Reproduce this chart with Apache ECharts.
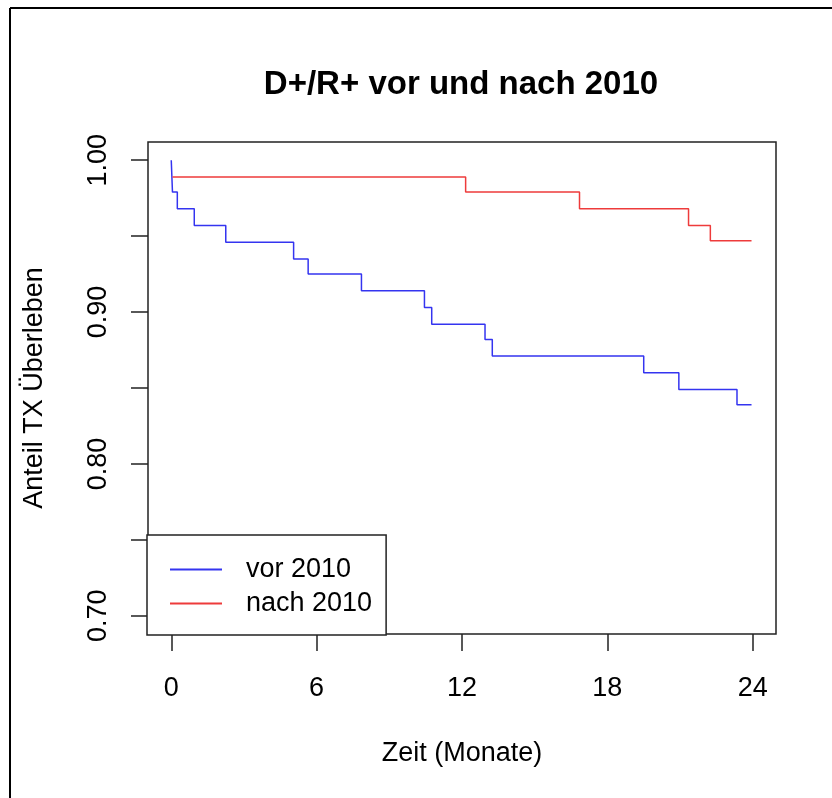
<!DOCTYPE html>
<html>
<head>
<meta charset="utf-8">
<script src="https://cdn.jsdelivr.net/npm/echarts@6/dist/echarts.min.js"></script>
<style>
html,body{margin:0;padding:0;background:#fff;}
#chart{width:832px;height:798px;}
</style>
</head>
<body>
<div id="chart"></div>
<script>
// ---- data ----
var titleText = 'D+/R+ vor und nach 2010';
var xAxisTitle = 'Zeit (Monate)';
var yAxisTitle = 'Anteil TX Überleben';
var xTicks = [0, 6, 12, 18, 24];
var yTicks = [0.70, 0.75, 0.80, 0.85, 0.90, 0.95, 1.00];
var yTickLabels = [0.70, 0.80, 0.90, 1.00];

var seriesNames = ['vor 2010', 'nach 2010'];
var vorTimes = [0, 0.05, 0.25, 0.95, 2.25, 5.05, 5.65, 7.85, 10.45, 10.75, 12.95, 13.25, 19.5, 20.95, 23.35, 23.95];
var vorSurv  = [1.000, 0.979, 0.968, 0.957, 0.946, 0.935, 0.925, 0.914, 0.903, 0.892, 0.882, 0.871, 0.860, 0.849, 0.839, 0.839];
var nachTimes = [0.05, 12.15, 16.85, 21.35, 22.25, 23.95];
var nachSurv  = [0.989, 0.979, 0.968, 0.957, 0.947, 0.947];

function pairs(t, s) { return t.map(function (v, i) { return [v, s[i]]; }); }

var FONT = '"Liberation Sans", Arial, sans-serif';
var chart = echarts.init(document.getElementById('chart'), null, {renderer: 'canvas'});
chart.setOption({
  animation: false,
  backgroundColor: '#ffffff',
  title: {
    text: titleText,
    left: 456, top: 63, textAlign: 'center',
    textStyle: {fontFamily: FONT, fontSize: 33, fontWeight: 'bold', color: '#000'}
  },
  grid: {
    left: 148, right: 56, top: 142, bottom: 164,
    show: true, borderColor: '#222', borderWidth: 1.5, backgroundColor: 'transparent'
  },
  legend: {
    orient: 'vertical',
    left: 147, top: 535,
    padding: [21, 14, 18, 23],
    itemGap: 7,
    itemWidth: 52, itemHeight: 2,
    icon: 'rect',
    backgroundColor: '#fff',
    borderColor: '#222', borderWidth: 1.5, borderRadius: 0,
    textStyle: {fontFamily: FONT, fontSize: 27, color: '#000', padding: [0, 0, 0, 19], lineHeight: 27},
    data: seriesNames
  },
  xAxis: {
    type: 'value', min: -0.96, max: 24.96,
    name: xAxisTitle, nameLocation: 'middle', nameGap: 106,
    nameTextStyle: {fontFamily: FONT, fontSize: 27, color: '#000'},
    axisLine: {show: false, onZero: false},
    axisTick: {show: true, length: 17, customValues: xTicks, lineStyle: {color: '#222', width: 1.5}},
    axisLabel: {customValues: xTicks, margin: 41, fontFamily: FONT, fontSize: 27, color: '#000'},
    splitLine: {show: false}
  },
  yAxis: {
    type: 'value', min: 0.688, max: 1.012,
    name: yAxisTitle, nameLocation: 'middle', nameGap: 100, nameRotate: 90,
    nameTextStyle: {fontFamily: FONT, fontSize: 27, color: '#000'},
    axisLine: {show: false, onZero: false},
    axisTick: {show: true, length: 17, customValues: yTicks, lineStyle: {color: '#222', width: 1.5}},
    axisLabel: {customValues: yTickLabels, rotate: 90, margin: 36, fontFamily: FONT, fontSize: 27, color: '#000',
      formatter: function (v) { return v.toFixed(2); }},
    splitLine: {show: false}
  },
  graphic: [
    {type: 'line', shape: {x1: 10, y1: 8, x2: 832, y2: 8}, style: {stroke: '#000', lineWidth: 2}, silent: true},
    {type: 'line', shape: {x1: 10, y1: 8, x2: 10, y2: 798}, style: {stroke: '#000', lineWidth: 2}, silent: true}
  ],
  series: [
    {
      name: seriesNames[0], type: 'line', step: 'end', symbol: 'none',
      color: '#3434f0',
      lineStyle: {width: 1.5, color: '#3434f0'},
      data: pairs(vorTimes, vorSurv)
    },
    {
      name: seriesNames[1], type: 'line', step: 'end', symbol: 'none',
      color: '#ee3b3b',
      lineStyle: {width: 1.5, color: '#ee3b3b'},
      data: pairs(nachTimes, nachSurv)
    }
  ]
});
</script>
</body>
</html>
